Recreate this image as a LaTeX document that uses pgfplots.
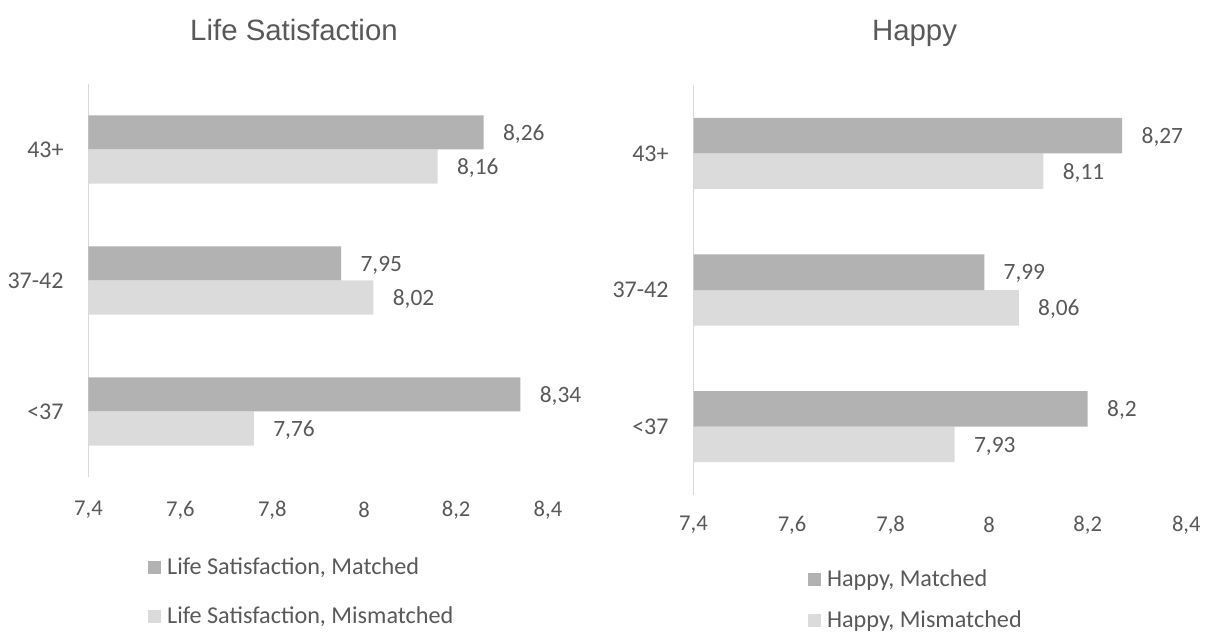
\documentclass[border=0pt]{standalone}
\usepackage{pgfplots}
\pgfplotsset{compat=1.18}
\usepackage{fontspec}
\setmainfont{Carlito}
\newfontfamily\titlefont{Liberation Sans}
\definecolor{matched}{HTML}{B2B2B2}
\definecolor{mism}{HTML}{DBDBDB}
\definecolor{txt}{HTML}{595959}
\definecolor{axl}{HTML}{D9D9D9}
\pgfplotsset{
 mybar/.style={
  xbar=0pt, scale only axis, axis lines*=left,
  x axis line style={draw=none},
  y axis line style={draw=axl, line width=0.75pt, -},
  tick style={draw=none},
  xmin=7.4, xmax=8.4, ymin=-0.5, ymax=2.5,
  xtick={7.4,7.6,7.8,8,8.2,8.4},
  ytick={0,1,2}, yticklabels={<37,37-42,43+},
  /pgf/number format/use comma,
  /pgf/number format/assume math mode=true,
  ticklabel style={font=\fontsize{11.3}{13}\selectfont, text=txt},
  yticklabel style={anchor=east, inner sep=0pt, xshift=-8pt, font=\fontsize{12}{14}\selectfont},
  bar width=0.26,
  nodes near coords,
  every node near coord/.append style={anchor=west, inner sep=0pt, xshift=9.5pt, yshift=-0.75pt, font=\fontsize{11.7}{13}\selectfont, text=txt},
  reverse legend,
  legend style={draw=none, fill=none, inner sep=0pt, anchor=north west, cells={anchor=west}, nodes={inner sep=0pt}, column sep=2.85pt, font=\fontsize{12.1}{14}\selectfont, text=txt},
  legend image code/.code={\fill[##1] (0pt,-3.25pt) rectangle (6.5pt,3.25pt);},
  title style={anchor=base, font=\titlefont\fontsize{14.7}{17}\selectfont, text=txt},
 }
}
\begin{document}
\begin{tikzpicture}
\path[use as bounding box] (0,0) rectangle (603.5pt,316.5pt);
\begin{axis}[mybar, at={(44.25pt,78pt)}, anchor=south west, width=229.75pt, height=196.5pt,
  xticklabel style={anchor=center, yshift=-16.5pt},
  title={Life Satisfaction}, title style={at={(axis description cs:0.4472,1.0814)}},
  legend style={at={(axis description cs:0.1295,-0.2033)}, row sep=14.9pt}]
\addplot[fill=mism, draw=none] coordinates {(7.76,0) (8.02,1) (8.16,2)};
\addplot[fill=matched, draw=none] coordinates {(8.34,0) (7.95,1) (8.26,2)};
\legend{{Life Satisfaction, Mismatched},{Life Satisfaction, Matched}}
\end{axis}
\begin{axis}[mybar, at={(346.75pt,69pt)}, anchor=south west, width=246.4pt, height=205pt,
  xticklabel style={anchor=center, yshift=-15pt},
  title={Happy}, title style={at={(axis description cs:0.4485,1.0805)}},
  legend style={at={(axis description cs:0.2323,-0.1802)}, row sep=10.9pt}]
\addplot[fill=mism, draw=none] coordinates {(7.93,0) (8.06,1) (8.11,2)};
\addplot[fill=matched, draw=none] coordinates {(8.2,0) (7.99,1) (8.27,2)};
\legend{{Happy, Mismatched},{Happy, Matched}}
\end{axis}
\end{tikzpicture}
\end{document}
